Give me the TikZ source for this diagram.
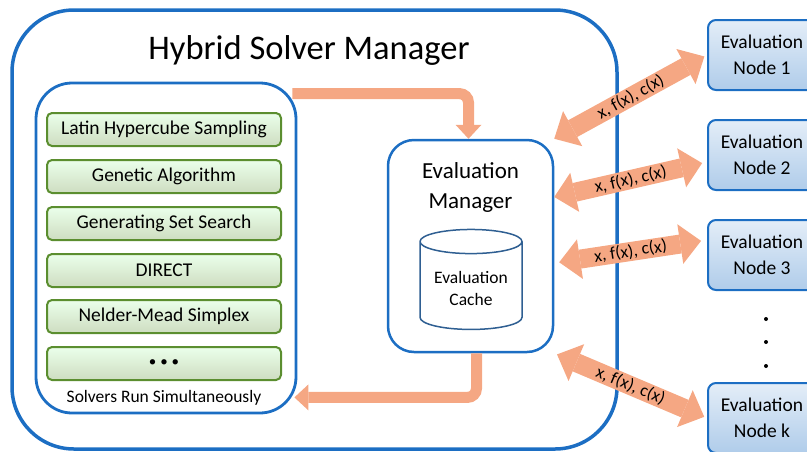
\documentclass[tikz,border=0pt]{standalone}
\usepackage{fontspec}
\setmainfont{Carlito}
\usetikzlibrary{arrows.meta,shapes.geometric,positioning}
\usepackage{xcolor}
\definecolor{frameblue}{HTML}{1C6EC3}
\definecolor{cylblue}{HTML}{2F5F92}
\definecolor{solvgreen}{HTML}{5B8E2F}
\definecolor{arrorange}{HTML}{F5A783}

\begin{document}
\begin{tikzpicture}[x=1pt, y=-1pt,
  every node/.style={font=\fontsize{19.5}{26}\selectfont},
  outerbox/.style={rectangle, draw=frameblue, line width=3.5pt,
                   rounded corners=62pt, minimum width=605pt, minimum height=439pt},
  solvbox/.style={rectangle, draw=frameblue, line width=2.8pt,
                  rounded corners=36pt, minimum width=260pt, minimum height=330pt},
  mgrbox/.style={rectangle, draw=frameblue, line width=2.5pt,
                 rounded corners=26pt, minimum width=165pt, minimum height=212pt},
  solver/.style={rectangle, draw=solvgreen, line width=2pt, rounded corners=5pt,
                 top color=green!8!white, bottom color=solvgreen!30!white,
                 minimum width=234pt, minimum height=33pt, inner sep=0pt},
  evalnode/.style={rectangle, draw=frameblue, line width=2pt, rounded corners=8pt,
                   top color=frameblue!12!white, bottom color=frameblue!35!white,
                   minimum width=108pt, minimum height=70pt, align=center,
                   inner sep=0pt},
  fatarr/.style={draw=arrorange, line width=19pt,
                 {Triangle[width=40pt,length=21pt,line width=0pt]}-{Triangle[width=40pt,length=21pt,line width=0pt]}},
  bentarr/.style={draw=arrorange, line width=11pt, rounded corners=9pt,
                  -{Triangle[width=26pt,length=14pt,line width=0pt]}},
  arrlabel/.style={sloped, inner sep=1pt, font=\fontsize{17.5}{20}\selectfont},
]
\clip (0,0) rectangle (807,451);

% manager frame
\node[outerbox] (hsm) at (314.5,229.5) {};
\node[font=\fontsize{34.5}{40}\selectfont] (title) at (309,50) {Hybrid Solver Manager};

% solvers
\node[solvbox] (solv) at (166,248) {};
\node[solver] (lhs) at (164,129.5) {Latin Hypercube Sampling};
\node[solver, below=12pt of lhs] (ga) {Genetic Algorithm};
\node[solver, below=12pt of ga] (gss) {Generating Set Search};
\node[solver, below=12pt of gss] (direct) {DIRECT};
\node[solver, below=11pt of direct] (nms) {Nelder-Mead Simplex};
\node[solver, below=12pt of nms, font=\fontsize{15}{18}\selectfont] (more)
  {\textbullet\hspace{4pt}\textbullet\hspace{4pt}\textbullet};
\node[font=\fontsize{17.5}{20}\selectfont, below=6pt of more] (simul)
  {Solvers Run Simultaneously};

% evaluation manager
\node[mgrbox] (mgr) at (470.5,246) {};
\node[font=\fontsize{23}{30}\selectfont, align=center, below=20pt of mgr.north]
  (mgrlabel) {Evaluation\\Manager};
\node[cylinder, shape border rotate=90, aspect=0.3, draw=cylblue, line width=1.5pt,
      minimum height=100pt, minimum width=102pt, align=center,
      font=\fontsize{17.5}{22}\selectfont] (cache) at (471,288) {Evaluation\\Cache};

% evaluation nodes
\node[evalnode] (n1) at (762,55) {Evaluation\\Node 1};
\node[evalnode] (n2) at (762,155) {Evaluation\\Node 2};
\node[evalnode] (n3) at (762,255) {Evaluation\\Node 3};
\node[evalnode] (nk) at (762,418) {Evaluation\\Node k};
\foreach \y in {319,342,366}
  \fill (766,\y) circle (2pt);

% flows
\draw[bentarr] ([xshift=-5pt,yshift=-12pt]solv.north east) -| ([xshift=-2pt]mgr.north);
\draw[bentarr] ([xshift=6pt]mgr.south) |- ([xshift=-3pt,yshift=17pt]solv.south east);

\draw[fatarr, shorten >=3pt] (mgr.north east) -- node[arrlabel] {x, f(x), c(x)} (n1.west);
\draw[fatarr, shorten >=5pt] ([yshift=49pt]mgr.east) -- node[arrlabel] {x, f(x), c(x)} ([yshift=-7pt]n2.west);
\draw[fatarr, shorten <=5pt, shorten >=6pt] ([yshift=-17pt]mgr.east) -- node[arrlabel] {x, f(x), c(x)} ([yshift=15pt]n3.west);
\draw[fatarr, shorten <=3pt, shorten >=3pt] (mgr.south east) -- node[arrlabel] {x, f(x), c(x)} (nk.west);
\end{tikzpicture}
\end{document}
